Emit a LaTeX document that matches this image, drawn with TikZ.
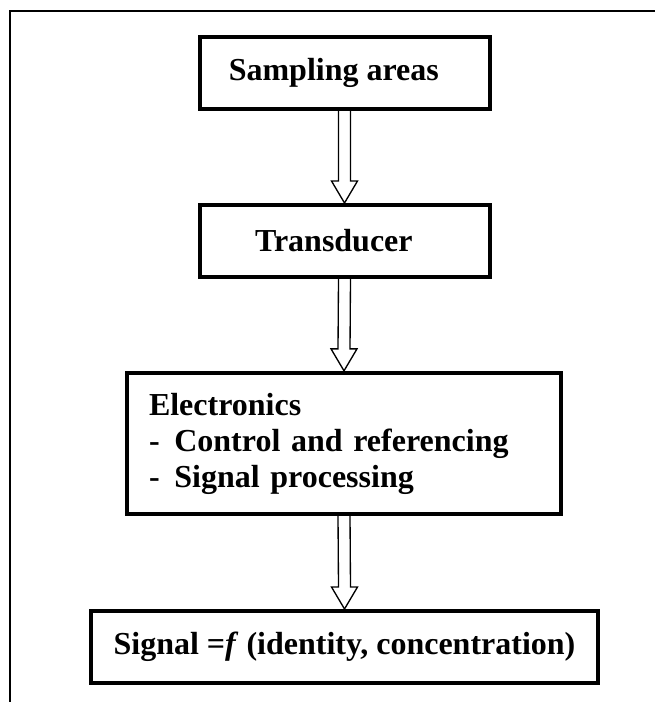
\documentclass[tikz,border=0pt]{standalone}
\usepackage{fontspec}
\setmainfont{Liberation Serif}
\usetikzlibrary{calc}

\tikzset{
  box/.style={draw, line width=3pt, inner sep=0pt, minimum height=54pt,
    align=center, font=\fontsize{24}{27}\selectfont\bfseries},
  hollow/.style={draw, line width=1pt},
}

% open block arrow from the bottom of #1 to the top of #2
\newcommand{\blockarrow}[2]{%
  \draw[hollow] ($(#1.south)+(-6,0)$) -- ($(#2.north)+(-6,-22)$)
    -- ($(#2.north)+(-13,-22)$) -- (#2.north) -- ($(#2.north)+(13,-22)$)
    -- ($(#2.north)+(6,-22)$) -- ($(#1.south)+(6,0)$);
}

\begin{document}
\begin{tikzpicture}[x=0.75pt, y=-0.75pt]
\useasboundingbox (0,0) rectangle (655,702);

% frame
\draw[line width=2pt] (10,702) -- (10,11) -- (655,11);

% boxes
\node[box, minimum width=217.5pt] (sampling) at (344.5,73) {Sampling areas\hspace*{16pt}};
\node[box, minimum width=217.5pt] (transducer) at (344.5,241) {Transducer\hspace*{16pt}};
\node[box, align=left, text width=292.5pt, inner xsep=16.5pt, minimum height=106pt]
  (electronics) at (344,443.5)
  {Electronics\\-\hspace{11pt}Control and referencing\\-\hspace{11pt}Signal processing};
\node[box, minimum width=380pt] (signal) at (344.5,647)
  {Signal =\textit{f} (identity, concentration)};

% arrows
\blockarrow{sampling}{transducer}
\blockarrow{transducer}{electronics}
\blockarrow{electronics}{signal}
\end{tikzpicture}
\end{document}
